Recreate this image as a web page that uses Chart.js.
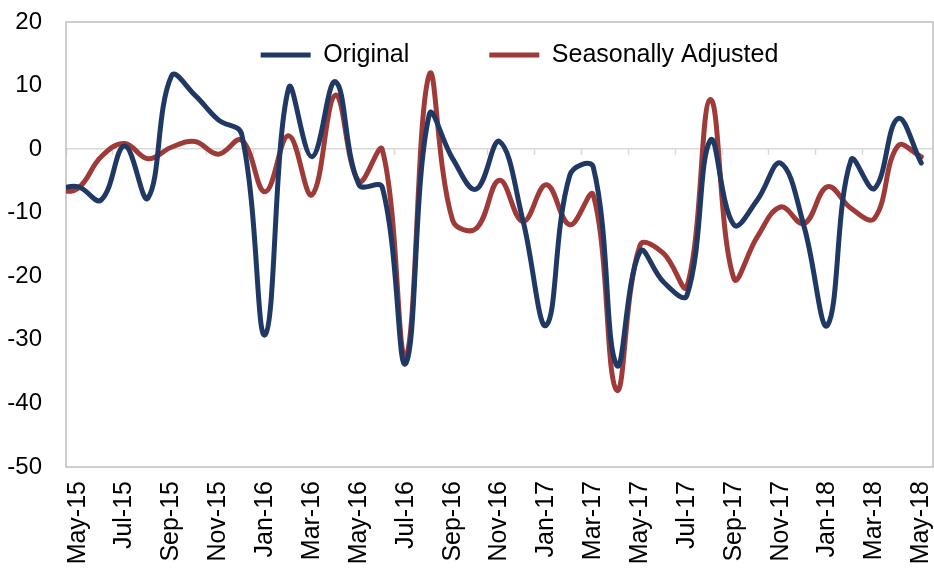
<!DOCTYPE html>
<html>
<head>
<meta charset="utf-8">
<title>Original vs Seasonally Adjusted</title>
<script src="https://cdn.jsdelivr.net/npm/chart.js@4.4.1/dist/chart.umd.min.js"></script>
<style>
  html, body { margin: 0; padding: 0; background: #fff; }
  canvas { display: block; }
</style>
</head>
<body>
<canvas id="chart" width="934" height="568"></canvas>
<script>
// monthly data, Apr-15 sits just left of the plot and is clipped off
const months = [
  'Apr-15', 'May-15', 'Jun-15', 'Jul-15', 'Aug-15', 'Sep-15', 'Oct-15', 'Nov-15', 'Dec-15',
  'Jan-16', 'Feb-16', 'Mar-16', 'Apr-16', 'May-16', 'Jun-16', 'Jul-16', 'Aug-16', 'Sep-16', 'Oct-16', 'Nov-16', 'Dec-16',
  'Jan-17', 'Feb-17', 'Mar-17', 'Apr-17', 'May-17', 'Jun-17', 'Jul-17', 'Aug-17', 'Sep-17', 'Oct-17', 'Nov-17', 'Dec-17',
  'Jan-18', 'Feb-18', 'Mar-18', 'Apr-18', 'May-18'
];
const original = [
  -6.5, -5.9, -8.0, 0.5, -7.7, 11.5, 8.5, 4.6, 2.3,
  -29.2, 9.6, -1.2, 10.6, -5.6, -6.0, -33.7, 5.4, -1.5, -6.3, 1.2, -11.2,
  -27.7, -4.1, -2.8, -34.0, -16.1, -20.9, -23.0, 1.4, -11.9, -8.0, -2.2, -12.2,
  -27.7, -1.7, -6.2, 4.8, -2.2
];
const adjusted = [
  -6.6, -6.2, -1.2, 0.9, -1.5, 0.3, 1.2, -0.8, 1.4,
  -6.7, 2.1, -7.2, 8.5, -5.1, -0.1, -32.7, 11.7, -11.2, -12.5, -4.9, -11.4,
  -5.6, -11.9, -7.2, -37.9, -15.1, -16.4, -21.6, 7.8, -20.3, -13.8, -9.1, -11.7,
  -5.9, -9.3, -10.9, 0.5, -1.2
];
const firstMonth = 'May-15';
const yMin = -50, yMax = 20, yStep = 10;

const NAVY = '#1F3864';
const RED = '#9E3A38';
const FONT = "'Liberation Sans', Arial, sans-serif";

Chart.defaults.font.family = FONT;
Chart.defaults.color = '#000';

// legend drawn inside the plot area, takes no layout space
const legendInside = {
  id: 'legendInside',
  beforeInit(chart) {
    const fit = chart.legend.fit;
    chart.legend.fit = function () { fit.call(this); this.height = 0; };
  },
  afterLayout(chart) {
    const lg = chart.legend, a = chart.chartArea;
    const pad = lg.options.labels.padding;
    lg.left = a.left + 20;
    lg.right = a.right + 20;
    lg.top = a.top + 33 - pad - 12.5;
    lg.bottom = lg.top + pad + 60;
  }
};

const plotBox = {
  id: 'plotBox',
  beforeDatasetsDraw(chart) {
    const { ctx, chartArea: a } = chart;
    ctx.save();
    ctx.strokeStyle = '#BFBFBF';
    ctx.lineWidth = 1.5;
    ctx.strokeRect(a.left, a.top, a.right - a.left, a.bottom - a.top);
    ctx.restore();
  }
};

new Chart(document.getElementById('chart'), {
  type: 'line',
  data: {
    labels: months,
    datasets: [
      { label: 'Original', data: original, borderColor: NAVY, backgroundColor: NAVY },
      { label: 'Seasonally Adjusted', data: adjusted, borderColor: RED, backgroundColor: RED }
    ]
  },
  options: {
    responsive: false,
    animation: false,
    devicePixelRatio: 1,
    layout: { padding: { top: 22, left: 0, right: 1, bottom: 0 } },
    datasets: {
      line: {
        borderWidth: 5,
        tension: 0.4,
        pointRadius: 0,
        borderCapStyle: 'round',
        borderJoinStyle: 'round',
        clip: 0
      }
    },
    plugins: {
      tooltip: { enabled: false },
      legend: {
        position: 'top',
        fullSize: false,
        labels: {
          usePointStyle: true,
          pointStyle: 'line',
          pointStyleWidth: 50,
          padding: 80,
          font: { size: 25 }
        }
      }
    },
    scales: {
      x: {
        type: 'category',
        min: firstMonth,
        offset: true,
        grid: { display: false },
        border: { display: false },
        ticks: {
          autoSkip: false,
          minRotation: 90,
          maxRotation: 90,
          padding: 6,
          font: { size: 25 },
          callback(value, index) { return index % 2 === 0 ? this.getLabelForValue(value) : ''; }
        },
        afterFit(scale) {
          scale.height = 101;
          scale.paddingLeft = 0;
          scale.paddingRight = 0;
        }
      },
      x0: {
        type: 'category',
        axis: 'x',
        position: { y: 0 },
        min: firstMonth,
        offset: true,
        ticks: { display: false },
        border: { display: false },
        grid: {
          offset: true,
          drawOnChartArea: false,
          tickLength: 6,
          tickWidth: 1.5,
          tickColor: ctx => ctx.index % 2 === 0 ? '#D9D9D9' : 'rgba(0,0,0,0)'
        }
      },
      y: {
        min: yMin,
        max: yMax,
        ticks: { stepSize: yStep, padding: 24, font: { size: 24 } },
        grid: {
          drawTicks: false,
          lineWidth: 1.5,
          color: ctx => ctx.tick && ctx.tick.value === 0 ? '#D9D9D9' : 'rgba(0,0,0,0)'
        },
        border: { display: false },
        afterFit(scale) {
          scale.width = 66;
          scale.paddingTop = 0;
          scale.paddingBottom = 0;
        }
      }
    }
  },
  plugins: [legendInside, plotBox]
});
</script>
</body>
</html>
